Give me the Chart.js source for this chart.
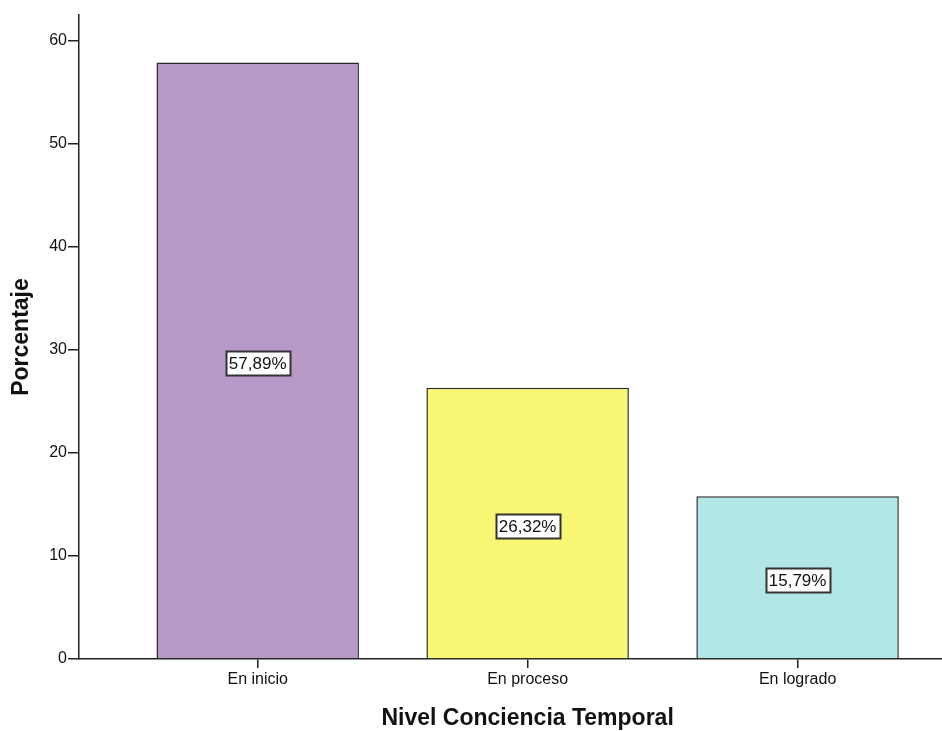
<!DOCTYPE html>
<html>
<head>
<meta charset="utf-8">
<script src="https://cdn.jsdelivr.net/npm/chart.js@4/dist/chart.umd.min.js"></script>
<style>
  html, body { margin: 0; padding: 0; background: #fff; }
  #wrap { width: 942px; height: 731px; }
</style>
</head>
<body>
<div id="wrap"><canvas id="chart" width="942" height="731"></canvas></div>
<script>
// Chart data
const categories = ['En inicio', 'En proceso', 'En logrado'];
const percentages = [57.89, 26.32, 15.79];
const barColors = ['#b79ac8', '#f8f672', '#b3e6e6'];
const yTicks = [0, 10, 20, 30, 40, 50, 60];
const xTitle = 'Nivel Conciencia Temporal';
const yTitle = 'Porcentaje';

const axisColor = '#222';
const fontFamily = '"Liberation Sans", Arial, sans-serif';

// White boxed value labels in the middle of each bar, plus the x title
const valueLabels = {
    id: 'valueLabels',
    afterDatasetsDraw(chart) {
        const ctx = chart.ctx;
        const meta = chart.getDatasetMeta(0);
        ctx.save();
        ctx.font = '17px ' + fontFamily;
        ctx.textAlign = 'center';
        ctx.textBaseline = 'middle';
        meta.data.forEach((bar, i) => {
            const text = percentages[i].toFixed(2).replace('.', ',') + '%';
            const cx = bar.x;
            const cy = (bar.y + bar.base) / 2 + 3;
            const w = Math.round(ctx.measureText(text).width + 6);
            const h = 24;
            const bx = Math.round(cx - w / 2) + 0.5;
            const by = Math.round(cy - h / 2) + 0.5;
            ctx.fillStyle = '#fff';
            ctx.fillRect(bx, by, w, h);
            ctx.strokeStyle = '#333';
            ctx.lineWidth = 2;
            ctx.strokeRect(bx, by, w, h);
            ctx.fillStyle = '#111';
            ctx.fillText(text, cx, cy + 1);
        });

        // x axis title, centred under the middle category
        const xs = chart.scales.x;
        ctx.font = 'bold 23px ' + fontFamily;
        ctx.fillText(xTitle, xs.getPixelForValue(1), 719);
        ctx.restore();
    }
};

new Chart(document.getElementById('chart').getContext('2d'), {
    type: 'bar',
    data: {
        datasets: [{
            data: percentages.map((v, i) => ({ x: i, y: v })),
            backgroundColor: barColors,
            borderColor: '#2a2a2a',
            borderWidth: 1.5,
            barPercentage: 0.75,
            categoryPercentage: 1
        }]
    },
    options: {
        responsive: false,
        animation: false,
        layout: { padding: { top: 15, right: 0, left: 0, bottom: 0 } },
        plugins: {
            legend: { display: false },
            tooltip: { enabled: false }
        },
        scales: {
            x: {
                type: 'linear',
                offset: false,
                min: -0.662,
                max: 2.535,
                afterBuildTicks: axis => { axis.ticks = categories.map((c, i) => ({ value: i })); },
                afterFit: axis => { axis.height = 72; },
                ticks: {
                    callback: v => categories[v],
                    color: '#111',
                    font: { family: fontFamily, size: 16 },
                    padding: 2,
                    maxRotation: 0
                },
                grid: { drawOnChartArea: false, offset: false, tickLength: 9, color: axisColor, lineWidth: 1.5 },
                border: { color: axisColor, width: 1.5 }
            },
            y: {
                min: 0,
                max: 62.5,
                afterBuildTicks: axis => { axis.ticks = yTicks.map(v => ({ value: v })); },
                afterFit: axis => { axis.width = 79; },
                ticks: {
                    color: '#111',
                    font: { family: fontFamily, size: 16 },
                    padding: 1
                },
                grid: { drawOnChartArea: false, tickLength: 11, color: axisColor, lineWidth: 1.5 },
                border: { color: axisColor, width: 1.5 },
                title: {
                    display: true,
                    text: yTitle,
                    color: '#111',
                    font: { family: fontFamily, size: 23, weight: 'bold' },
                    padding: { top: 8, bottom: 0 }
                }
            }
        }
    },
    plugins: [valueLabels]
});
</script>
</body>
</html>
